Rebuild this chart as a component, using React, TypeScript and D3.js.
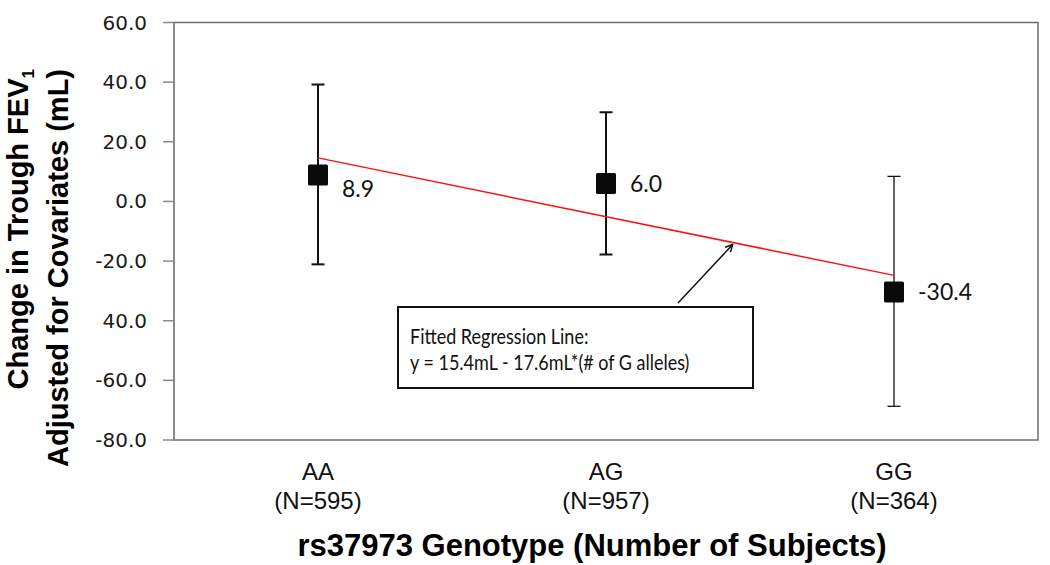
import React from "react";
import * as d3 from "d3";

// genotype groups and their adjusted change in trough FEV1 (mL)
const genotypes = ["AA", "AG", "GG"];
const subjects = ["(N=595)", "(N=957)", "(N=364)"];
const means = [8.9, 6.0, -30.4];
const meanLabels = ["8.9", "6.0", "-30.4"];
const upper = [39.2, 29.9, 8.4];
const lower = [-21.1, -17.8, -68.7];

// fitted regression line, as drawn (number of G alleles -> mL)
const regAlleles = [0, 2];
const regValues = [14.6, -24.8];
const arrowAllele = 1.44; // where the annotation arrow touches the line

const yTicks = [60, 40, 20, 0, -20, -40, -60, -80];
const yTickLabels = ["60.0", "40.0", "20.0", "0.0", "-20.0", "40.0", "-60.0", "-80.0"];

const W = 1050;
const H = 565;
const plot = { left: 174, right: 1038, top: 22.5, bottom: 440 };

const App = () => {
    const x = d3.scaleBand().domain(genotypes).range([plot.left, plot.right]);
    const cx = (g) => x(g) + x.bandwidth() / 2;
    const y = d3.scaleLinear().domain([-80, 60]).range([plot.bottom, plot.top]);
    const xAllele = d3.scaleLinear().domain([0, 2]).range([cx("AA"), cx("GG")]);

    const regPoints = regAlleles.map((a, i) => [xAllele(a), y(regValues[i])]);
    const regLine = d3.line()(regPoints);

    const regAt = d3.scaleLinear().domain(regAlleles).range(regValues);
    const tip = [xAllele(arrowAllele), y(regAt(arrowAllele)) + 2];
    const box = { x: 398, y: 307, w: 355, h: 81 };
    const arrowStart = [678, box.y - 4];

    const barWidths = [2, 2, 1.3];
    const labelDy = [14, 0, 0];

    return (
        <div style={{ position: "absolute", left: 0, top: 0 }}>
            <svg width={W} height={H} style={{ display: "block", background: "#fff" }}>
                <defs>
                    <marker id="arrowhead" viewBox="0 0 10 10" refX="9" refY="5"
                        markerWidth="9" markerHeight="9" orient="auto" markerUnits="userSpaceOnUse">
                        <path d="M1,1 L9,5 L1,9" fill="none" stroke="#111" strokeWidth="1.6" />
                    </marker>
                </defs>

                {/* plot area border */}
                <rect x={plot.left} y={plot.top} width={plot.right - plot.left}
                    height={plot.bottom - plot.top} fill="none" stroke="#6e6e6e" strokeWidth={1.5} />
                <line x1={plot.left} x2={plot.left} y1={plot.top} y2={plot.bottom} stroke="#8a8a8a" strokeWidth={1.5} />

                {/* y axis ticks + labels */}
                {yTicks.map((t, i) => (
                    <g key={t}>
                        <line x1={plot.left - 11} x2={plot.left} y1={y(t)} y2={y(t)} stroke="#8a8a8a" strokeWidth={1.5} />
                        <text x={147} y={y(t)} dy="0.35em" textAnchor="end"
                            fontFamily="DejaVu Sans" fontSize={20} fill="#1a1a1a">{yTickLabels[i]}</text>
                    </g>
                ))}

                {/* y axis title */}
                <g fontFamily="Liberation Sans" fontWeight="bold" fontSize={29} fill="#000">
                    <text transform="translate(28,69) rotate(-90)" textAnchor="end">
                        Change in Trough FEV<tspan fontSize={17} dy={6}>1</tspan>
                    </text>
                    <text transform="translate(68,69) rotate(-90)" textAnchor="end">
                        Adjusted for Covariates (mL)
                    </text>
                </g>

                {/* x category labels */}
                {genotypes.map((g, i) => (
                    <g key={g} fontFamily="Liberation Sans" fontSize={24} fill="#111" textAnchor="middle">
                        <text x={cx(g)} y={480}>{g}</text>
                        <text x={cx(g)} y={509}>{subjects[i]}</text>
                    </g>
                ))}

                {/* x axis title */}
                <text x={592} y={556} textAnchor="middle" fontFamily="Liberation Sans"
                    fontWeight="bold" fontSize={31} fill="#000">rs37973 Genotype (Number of Subjects)</text>

                {/* error bars */}
                {genotypes.map((g, i) => (
                    <g key={g} stroke="#111" strokeWidth={barWidths[i]}>
                        <line x1={cx(g)} x2={cx(g)} y1={y(upper[i])} y2={y(lower[i])} />
                        <line x1={cx(g) - 6.5} x2={cx(g) + 6.5} y1={y(upper[i])} y2={y(upper[i])} />
                        <line x1={cx(g) - 6.5} x2={cx(g) + 6.5} y1={y(lower[i])} y2={y(lower[i])} />
                    </g>
                ))}

                {/* regression line */}
                <path d={regLine} fill="none" stroke="#ff1010" strokeWidth={1.5} />

                {/* mean markers */}
                {genotypes.map((g, i) => (
                    <g key={g}>
                        <rect x={cx(g) - 10} y={y(means[i]) - 10.5} width={20} height={21} rx={1.5} fill="#0a0a0a" />
                        <text x={cx(g) + 24} y={y(means[i]) + labelDy[i]} dy="0.35em"
                            fontFamily="Lato" fontSize={23} fill="#111">{meanLabels[i]}</text>
                    </g>
                ))}

                {/* annotation */}
                <line x1={arrowStart[0]} y1={arrowStart[1]} x2={tip[0]} y2={tip[1]}
                    stroke="#111" strokeWidth={1.5} markerEnd="url(#arrowhead)" />
                <rect x={box.x} y={box.y} width={box.w} height={box.h} fill="#fff" stroke="#111" strokeWidth={2} />
                <g fontFamily="Lato" fontSize={18} fill="#111">
                    <text transform={`translate(${box.x + 12},${box.y + 37}) scale(1,1.22)`}>Fitted Regression Line:</text>
                    <text transform={`translate(${box.x + 12},${box.y + 63}) scale(1,1.22)`}>y = 15.4mL - 17.6mL*(# of G alleles)</text>
                </g>
            </svg>
        </div>
    );
};

export default App;
